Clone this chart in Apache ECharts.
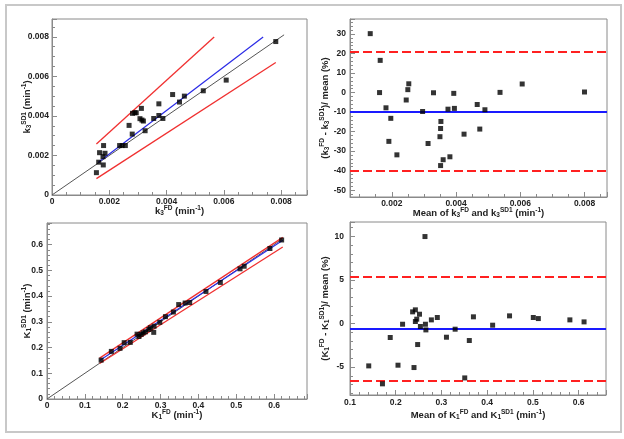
<!DOCTYPE html>
<html><head><meta charset="utf-8">
<script src="https://cdn.jsdelivr.net/npm/echarts@6/dist/echarts.min.js"></script>
<style>html,body{margin:0;padding:0;background:#fff}#c{width:624px;height:439px}</style>
</head><body><div id="c"></div>
<script>
// ---- Top-left: k3 FD vs k3 SD1 ----
const k3FD  = [0.00155,0.00163,0.00166,0.00178,0.00179,0.00180,0.00185,0.00236,0.00245,0.00256,0.00269,0.00280,0.00281,0.00289,0.00294,0.00312,0.00307,0.00314,0.00319,0.00325,0.00355,0.00373,0.00373,0.00387,0.00421,0.00445,0.00462,0.00528,0.00608,0.00781];
const k3SD1 = [0.00113,0.00166,0.00214,0.00194,0.00152,0.00250,0.00211,0.00250,0.00250,0.00250,0.00352,0.00308,0.00413,0.00416,0.00416,0.00438,0.00386,0.00379,0.00374,0.00325,0.00387,0.00461,0.00402,0.00387,0.00508,0.00470,0.00500,0.00527,0.00581,0.00776];
const k3IdentityX = [0, 0.0081];
const k3RegX = [0.00161, 0.00737], k3RegY = [0.00164, 0.00799];
const k3UpX  = [0.00155, 0.00566], k3UpY  = [0.00258, 0.00799];
const k3LoX  = [0.00155, 0.00781], k3LoY  = [0.00083, 0.00670];
// ---- Top-right: Bland-Altman k3 ----
const k3Mean = [0.00133,0.00164,0.00162,0.00182,0.00197,0.00191,0.00216,0.00245,0.00250,0.00253,0.00296,0.00313,0.00330,0.00353,0.00352,0.00350,0.00352,0.00360,0.00381,0.00375,0.00393,0.00395,0.00425,0.00466,0.00474,0.00490,0.00537,0.00606,0.00800];
const k3Diff = [30.2,16.5,0,-7.8,-13.2,-25.0,-31.9,-3.8,1.5,4.5,-9.7,-26.1,-0.1,-14.8,-18.4,-22.6,-37.4,-34.4,-32.9,-8.5,-0.4,-8.1,-21.3,-6.1,-18.7,-8.8,0.1,4.4,0.3];
const k3Limits = [21.0, -40.2];
const k3Bias = -9.6;
// ---- Bottom-left: K1 FD vs K1 SD1 ----
const K1FD  = [0.143,0.170,0.193,0.204,0.220,0.238,0.243,0.249,0.254,0.260,0.269,0.273,0.282,0.283,0.298,0.313,0.334,0.348,0.365,0.377,0.420,0.458,0.510,0.521,0.589,0.620];
const K1SD1 = [0.151,0.185,0.197,0.219,0.220,0.252,0.243,0.251,0.257,0.261,0.270,0.277,0.259,0.283,0.298,0.320,0.338,0.367,0.373,0.375,0.418,0.453,0.506,0.516,0.585,0.618];
const K1IdentityX = [0, 0.62];
const K1RegX = [0.139, 0.623], K1RegY = [0.150, 0.617];
const K1UpX  = [0.139, 0.623], K1UpY  = [0.159, 0.628];
const K1LoX  = [0.139, 0.623], K1LoY  = [0.138, 0.591];
// ---- Bottom-right: Bland-Altman K1 ----
const K1Mean = [0.141,0.171,0.188,0.205,0.215,0.237,0.240,0.243,0.243,0.246,0.248,0.252,0.254,0.264,0.265,0.266,0.278,0.291,0.311,0.330,0.351,0.361,0.370,0.412,0.449,0.501,0.512,0.581,0.612];
const K1Diff = [-4.86,-6.92,-1.6,-4.78,-0.08,1.34,-5.05,1.57,0.23,0.5,-2.41,1.07,-0.34,9.98,-0.08,-0.73,0.42,0.69,-1.57,-0.65,-6.24,-1.95,0.77,-0.19,0.88,0.69,0.57,0.42,0.19];
const K1Limits = [5.41, -6.6];
const K1Bias = -0.61;

const zip = (a, b) => a.map((v, i) => [v, b[i]]);
const FONT = 'Liberation Sans';
const AX = '#8a8a8a';
const richStyles = {
  m:   {fontFamily: FONT, fontSize: 9.5, fontWeight: 'bold', color: '#222', lineHeight: 12, verticalAlign: 'middle'},
  sub: {fontFamily: FONT, fontSize: 6.5, fontWeight: 'bold', color: '#222', lineHeight: 6, verticalAlign: 'bottom'},
  sup: {fontFamily: FONT, fontSize: 6.5, fontWeight: 'bold', color: '#222', lineHeight: 6, verticalAlign: 'top'}
};
function fmt(step, dec, showZero) {
  return v => {
    const k = v / step;
    if (Math.abs(k - Math.round(k)) > 1e-6) return '';
    if (Math.abs(v) < 1e-12) return showZero ? '0' : '';
    return dec > 0 ? v.toFixed(dec) : String(Math.round(v));
  };
}
function mkAxis(o) {
  const a = {
    type: 'value', gridIndex: o.gi, min: o.min, max: o.max, scale: true,
    axisLine: {show: true, onZero: false, lineStyle: {color: AX, width: 1}},
    axisTick: {show: true, inside: true, length: 5, lineStyle: {color: AX}},
    minorTick: {show: true, splitNumber: o.minor, length: 3, lineStyle: {color: AX}},
    splitLine: {show: false}, minorSplitLine: {show: false},
    axisLabel: {fontFamily: FONT, fontSize: 8.5, fontWeight: 'bold', color: '#222', margin: o.margin,
      formatter: fmt(o.step, o.dec, o.zero)},
    name: o.name, nameLocation: 'middle', nameGap: o.nameGap, nameMoveOverlap: false,
    nameTextStyle: {fontFamily: FONT, fontSize: 9.5, fontWeight: 'bold', color: '#222', rich: richStyles}
  };
  if (o.interval) a.interval = o.interval; else a.splitNumber = o.split;
  return a;
}
const red = '#f03030', blue = '#2a2ae6', grey = '#555';
function seg(gi, xs, ys, color, w) {
  return {type: 'line', xAxisIndex: gi, yAxisIndex: gi, data: zip(xs, ys), symbol: 'none',
    lineStyle: {color: color, width: w}, silent: true, z: 2};
}
function pts(gi, xs, ys, ml) {
  const s = {type: 'scatter', xAxisIndex: gi, yAxisIndex: gi, data: zip(xs, ys), symbol: 'rect',
    symbolSize: 5, itemStyle: {color: '#000'}, z: 5};
  if (ml) s.markLine = ml;
  return s;
}
function baLines(limits, bias) {
  const dash = {color: '#ff2020', width: 2, type: [9, 4]};
  return {silent: true, symbol: ['none', 'none'], label: {show: false}, animation: false,
    data: [
      {yAxis: limits[0], lineStyle: dash},
      {yAxis: bias, lineStyle: {color: '#1a1aff', width: 2, type: 'solid'}},
      {yAxis: limits[1], lineStyle: dash}
    ]};
}

const option = {
  animation: false,
  backgroundColor: '#fff',
  graphic: [{type: 'rect', shape: {x: 6, y: 5, width: 615, height: 427},
    style: {fill: 'none', stroke: '#c8c8c8', lineWidth: 2}, silent: true}],
  grid: [
    {left: 52, top: 19, width: 255, height: 176, show: true, borderColor: AX, borderWidth: 1},
    {left: 350, top: 19, width: 257, height: 178, show: true, borderColor: AX, borderWidth: 1},
    {left: 47, top: 223, width: 260, height: 176, show: true, borderColor: AX, borderWidth: 1},
    {left: 350, top: 222, width: 256, height: 173, show: true, borderColor: AX, borderWidth: 1}
  ],
  xAxis: [
    mkAxis({gi: 0, min: 0, max: 0.0089, interval: 0.002, step: 0.002, dec: 3, zero: true, minor: 4, margin: 2,
      name: '{m|k}{sub|3}{sup|FD}{m| (min}{sup|-1}{m|)}', nameGap: 10}),
    mkAxis({gi: 1, min: 0.0007, max: 0.0087, split: 4, step: 0.002, dec: 3, zero: false, minor: 4, margin: 2,
      name: '{m|Mean of k}{sub|3}{sup|FD}{m| and k}{sub|3}{sup|SD1}{m| (min}{sup|-1}{m|)}', nameGap: 10}),
    mkAxis({gi: 2, min: 0, max: 0.687, interval: 0.1, step: 0.1, dec: 1, zero: true, minor: 5, margin: 2,
      name: '{m|K}{sub|1}{sup|FD}{m| (min}{sup|-1}{m|)}', nameGap: 10}),
    mkAxis({gi: 3, min: 0.1, max: 0.66, interval: 0.1, step: 0.1, dec: 1, zero: false, minor: 5, margin: 3,
      name: '{m|Mean of K}{sub|1}{sup|FD}{m| and K}{sub|1}{sup|SD1}{m| (min}{sup|-1}{m|)}', nameGap: 14})
  ],
  yAxis: [
    mkAxis({gi: 0, min: 0, max: 0.0089, interval: 0.002, step: 0.002, dec: 3, zero: true, minor: 4, margin: 3,
      name: '{m|k}{sub|3}{sup|SD1}{m| (min}{sup|-1}{m|)}', nameGap: 19}),
    mkAxis({gi: 1, min: -53.5, max: 37.7, split: 9, step: 10, dec: 0, zero: true, minor: 5, margin: 4,
      name: '{m|(k}{sub|3}{sup|FD}{m| - k}{sub|3}{sup|SD1}{m|)/ mean (%)}', nameGap: 19}),
    mkAxis({gi: 2, min: 0, max: 0.684, interval: 0.1, step: 0.1, dec: 1, zero: true, minor: 5, margin: 4,
      name: '{m|K}{sub|1}{sup|SD1}{m| (min}{sup|-1}{m|)}', nameGap: 14}),
    mkAxis({gi: 3, min: -8.2, max: 11.65, split: 4, step: 5, dec: 0, zero: true, minor: 5, margin: 6,
      name: '{m|(K}{sub|1}{sup|FD}{m| - K}{sub|1}{sup|SD1}{m|)/ mean (%)}', nameGap: 19})
  ],
  series: [
    seg(0, k3IdentityX, k3IdentityX, grey, 1),
    seg(0, k3RegX, k3RegY, blue, 1.2),
    seg(0, k3UpX, k3UpY, red, 1.3),
    seg(0, k3LoX, k3LoY, red, 1.3),
    pts(0, k3FD, k3SD1),
    pts(1, k3Mean, k3Diff, baLines(k3Limits, k3Bias)),
    seg(2, K1IdentityX, K1IdentityX, grey, 1),
    seg(2, K1UpX, K1UpY, red, 1.3),
    seg(2, K1LoX, K1LoY, red, 1.3),
    seg(2, K1RegX, K1RegY, blue, 1.2),
    pts(2, K1FD, K1SD1),
    pts(3, K1Mean, K1Diff, baLines(K1Limits, K1Bias))
  ]
};
const chart = echarts.init(document.getElementById('c'), null, {renderer: 'canvas'});
chart.setOption(option);
</script>
</body></html>
